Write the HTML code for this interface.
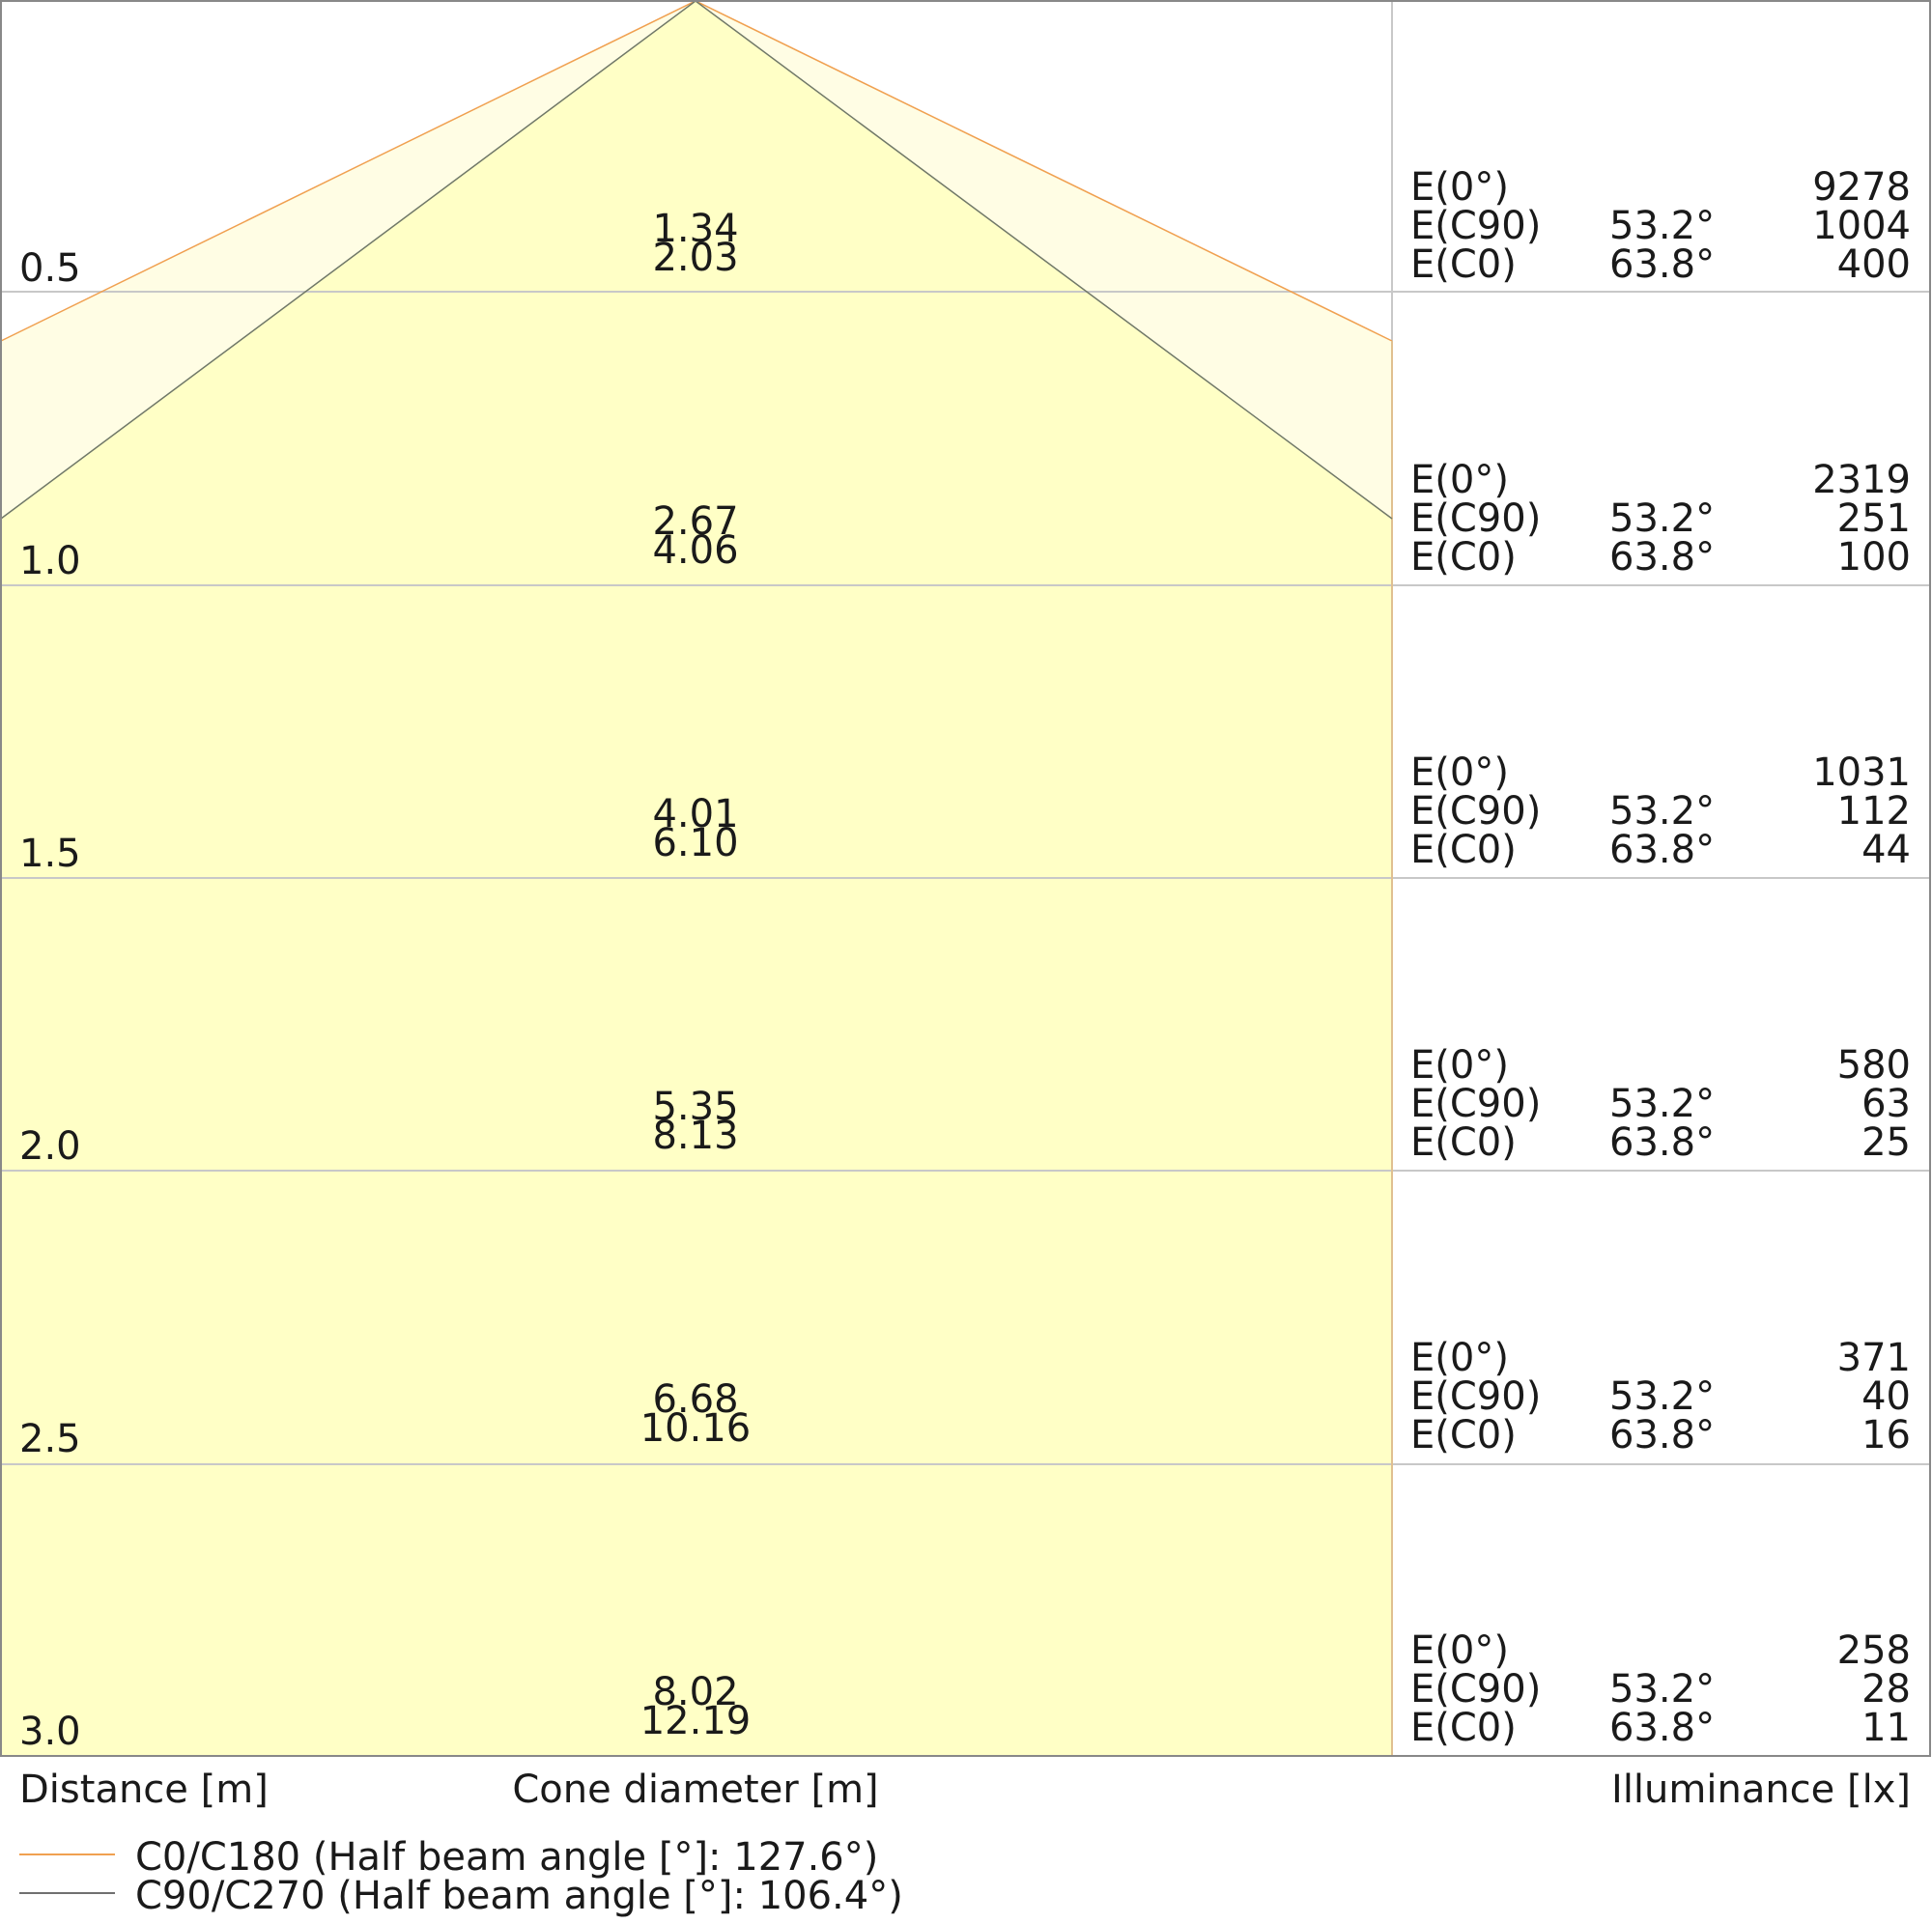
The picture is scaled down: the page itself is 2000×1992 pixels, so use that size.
<!DOCTYPE html>
<html><head><meta charset="utf-8"><style>
html,body{margin:0;padding:0;background:#fff;}
svg{display:block;}
text{font-family:"DejaVu Sans","Liberation Sans",sans-serif;font-size:40px;fill:#1a1a1a;}
</style></head><body>
<svg width="2000" height="1992" viewBox="0 0 2000 1992" xmlns="http://www.w3.org/2000/svg">
<rect x="0" y="0" width="2000" height="1992" fill="#fff"/>
<polygon points="1,353 720,1 1441,353 1441,1818 1,1818" fill="#fffde4"/>
<polygon points="1,537 720,1 1441,537 1441,1818 1,1818" fill="#ffffc6"/>
<g stroke="#c8c8c8" stroke-width="2">
<line x1="1" y1="302" x2="1998" y2="302"/>
<line x1="1" y1="606" x2="1998" y2="606"/>
<line x1="1" y1="909" x2="1998" y2="909"/>
<line x1="1" y1="1212" x2="1998" y2="1212"/>
<line x1="1" y1="1516" x2="1998" y2="1516"/>
<line x1="1441" y1="1" x2="1441" y2="1818"/>
</g>
<polyline points="1,353 720,1 1441,353" fill="none" stroke="#f0a050" stroke-width="1.5"/>
<line x1="1441" y1="353" x2="1441" y2="1818" stroke="#e0c090" stroke-width="2"/>
<polyline points="1,537 720,1 1441,537" fill="none" stroke="#707868" stroke-width="1.5"/>
<rect x="1" y="1" width="1997" height="1817" fill="none" stroke="#888" stroke-width="2"/>
<g>
<text x="20" y="291">0.5</text><text x="20" y="594">1.0</text><text x="20" y="897">1.5</text>
<text x="20" y="1200">2.0</text><text x="20" y="1503">2.5</text><text x="20" y="1806">3.0</text>
</g>
<g text-anchor="middle">
<text x="720" y="250">1.34</text><text x="720" y="280">2.03</text>
<text x="720" y="553">2.67</text><text x="720" y="583">4.06</text>
<text x="720" y="856">4.01</text><text x="720" y="886">6.10</text>
<text x="720" y="1159">5.35</text><text x="720" y="1189">8.13</text>
<text x="720" y="1462">6.68</text><text x="720" y="1492">10.16</text>
<text x="720" y="1765">8.02</text><text x="720" y="1795">12.19</text>
</g>
<g>
<text x="1460" y="207">E(0°)</text><text x="1460" y="247">E(C90)</text><text x="1460" y="287">E(C0)</text>
<text x="1666" y="247">53.2°</text><text x="1666" y="287">63.8°</text>
<text x="1460" y="510">E(0°)</text><text x="1460" y="550">E(C90)</text><text x="1460" y="590">E(C0)</text>
<text x="1666" y="550">53.2°</text><text x="1666" y="590">63.8°</text>
<text x="1460" y="813">E(0°)</text><text x="1460" y="853">E(C90)</text><text x="1460" y="893">E(C0)</text>
<text x="1666" y="853">53.2°</text><text x="1666" y="893">63.8°</text>
<text x="1460" y="1116">E(0°)</text><text x="1460" y="1156">E(C90)</text><text x="1460" y="1196">E(C0)</text>
<text x="1666" y="1156">53.2°</text><text x="1666" y="1196">63.8°</text>
<text x="1460" y="1419">E(0°)</text><text x="1460" y="1459">E(C90)</text><text x="1460" y="1499">E(C0)</text>
<text x="1666" y="1459">53.2°</text><text x="1666" y="1499">63.8°</text>
<text x="1460" y="1722">E(0°)</text><text x="1460" y="1762">E(C90)</text><text x="1460" y="1802">E(C0)</text>
<text x="1666" y="1762">53.2°</text><text x="1666" y="1802">63.8°</text>
</g>
<g text-anchor="end">
<text x="1978" y="207">9278</text><text x="1978" y="247">1004</text><text x="1978" y="287">400</text>
<text x="1978" y="510">2319</text><text x="1978" y="550">251</text><text x="1978" y="590">100</text>
<text x="1978" y="813">1031</text><text x="1978" y="853">112</text><text x="1978" y="893">44</text>
<text x="1978" y="1116">580</text><text x="1978" y="1156">63</text><text x="1978" y="1196">25</text>
<text x="1978" y="1419">371</text><text x="1978" y="1459">40</text><text x="1978" y="1499">16</text>
<text x="1978" y="1722">258</text><text x="1978" y="1762">28</text><text x="1978" y="1802">11</text>
</g>
<text x="20" y="1866">Distance [m]</text>
<text x="720" y="1866" text-anchor="middle">Cone diameter [m]</text>
<text x="1978" y="1866" text-anchor="end">Illuminance [lx]</text>
<line x1="20" y1="1920" x2="119" y2="1920" stroke="#f0a050" stroke-width="2"/>
<line x1="20" y1="1960" x2="119" y2="1960" stroke="#707070" stroke-width="2"/>
<text x="140" y="1936">C0/C180 (Half beam angle [°]: 127.6°)</text>
<text x="140" y="1976">C90/C270 (Half beam angle [°]: 106.4°)</text>
</svg>
</body></html>
